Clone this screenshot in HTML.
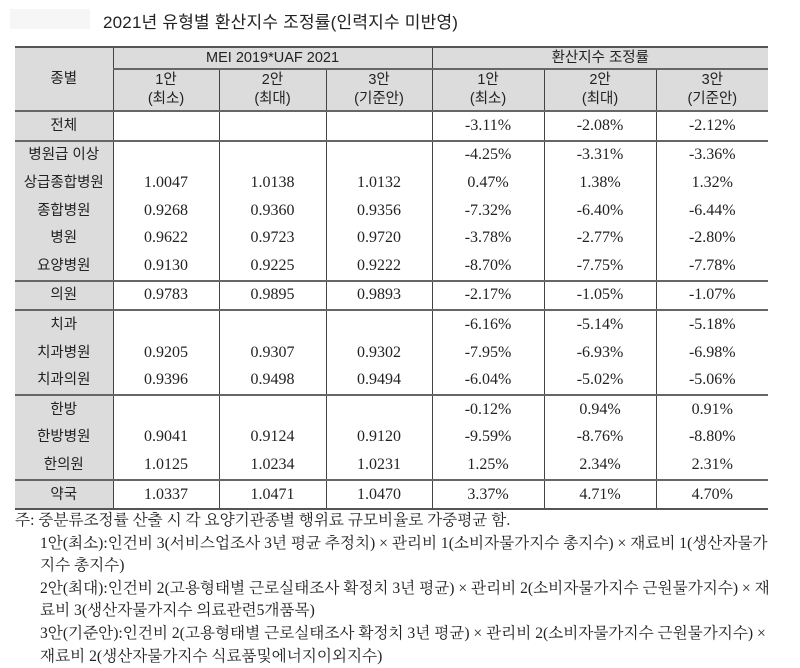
<!DOCTYPE html>
<html><head><meta charset="utf-8"><style>
body{margin:0;width:800px;height:667px;background:#fff;position:relative;overflow:hidden;font-family:"Liberation Sans","Noto Sans CJK KR",sans-serif;color:#222}
.title{position:absolute;left:103px;top:8px;font-size:17px;letter-spacing:0.2px}
.arrow{position:absolute;left:10px;top:9px;width:80px;height:20px;background:#f6f6f6}
table{position:absolute;left:15px;top:46px;border-collapse:collapse;table-layout:fixed;width:753px}
td{padding:0;text-align:center;vertical-align:middle;height:27.6px;font-family:"Liberation Serif","Noto Serif CJK SC",serif;font-size:16px;line-height:18px;border-left:1.5px solid #444;border-right:1.5px solid #444}
td.h{background:#dcdcdc;font-family:"Liberation Sans","Noto Sans CJK KR",sans-serif;font-size:14.5px;line-height:19px}
td.k{background:#dcdcdc;font-family:"Liberation Sans","Noto Sans CJK KR",sans-serif;font-size:14.5px;border-left:none}
tr.g td{border-top:2px solid #666}
tr.top td{border-top:2.5px solid #555}
.notes{position:absolute;left:15px;top:510px;font-family:"Liberation Serif","Noto Serif CJK KR",serif;font-size:15.6px;line-height:22.6px;color:#222;white-space:nowrap}
.notes div{padding-left:25px}
.notes div.f{padding-left:0}
</style></head><body>
<div class="arrow"></div>
<div class="title">2021년 유형별 환산지수 조정률(인력지수 미반영)</div>
<table>
<colgroup><col style="width:98px"><col style="width:106px"><col style="width:107px"><col style="width:106px"><col style="width:112px"><col style="width:112px"><col style="width:112px"></colgroup>
<tr class="top"><td class="k" rowspan="2" style="height:61px">종별</td><td class="h" colspan="3" style="height:20px;border-bottom:2px solid #666">MEI 2019*UAF 2021</td><td class="h" colspan="3" style="height:20px;border-bottom:2px solid #666;border-right:none">환산지수 조정률</td></tr>
<tr><td class="h" style="height:40px">1안<br>(최소)</td><td class="h">2안<br>(최대)</td><td class="h">3안<br>(기준안)</td><td class="h">1안<br>(최소)</td><td class="h">2안<br>(최대)</td><td class="h" style="border-right:none">3안<br>(기준안)</td></tr>
<tr class="g"><td class="k">전체</td><td></td><td></td><td></td><td>-3.11%</td><td>-2.08%</td><td style="border-right:none">-2.12%</td></tr>
<tr class="g"><td class="k">병원급 이상</td><td></td><td></td><td></td><td>-4.25%</td><td>-3.31%</td><td style="border-right:none">-3.36%</td></tr>
<tr><td class="k">상급종합병원</td><td>1.0047</td><td>1.0138</td><td>1.0132</td><td>0.47%</td><td>1.38%</td><td style="border-right:none">1.32%</td></tr>
<tr><td class="k">종합병원</td><td>0.9268</td><td>0.9360</td><td>0.9356</td><td>-7.32%</td><td>-6.40%</td><td style="border-right:none">-6.44%</td></tr>
<tr><td class="k">병원</td><td>0.9622</td><td>0.9723</td><td>0.9720</td><td>-3.78%</td><td>-2.77%</td><td style="border-right:none">-2.80%</td></tr>
<tr><td class="k">요양병원</td><td>0.9130</td><td>0.9225</td><td>0.9222</td><td>-8.70%</td><td>-7.75%</td><td style="border-right:none">-7.78%</td></tr>
<tr class="g"><td class="k">의원</td><td>0.9783</td><td>0.9895</td><td>0.9893</td><td>-2.17%</td><td>-1.05%</td><td style="border-right:none">-1.07%</td></tr>
<tr class="g"><td class="k">치과</td><td></td><td></td><td></td><td>-6.16%</td><td>-5.14%</td><td style="border-right:none">-5.18%</td></tr>
<tr><td class="k">치과병원</td><td>0.9205</td><td>0.9307</td><td>0.9302</td><td>-7.95%</td><td>-6.93%</td><td style="border-right:none">-6.98%</td></tr>
<tr><td class="k">치과의원</td><td>0.9396</td><td>0.9498</td><td>0.9494</td><td>-6.04%</td><td>-5.02%</td><td style="border-right:none">-5.06%</td></tr>
<tr class="g"><td class="k">한방</td><td></td><td></td><td></td><td>-0.12%</td><td>0.94%</td><td style="border-right:none">0.91%</td></tr>
<tr><td class="k">한방병원</td><td>0.9041</td><td>0.9124</td><td>0.9120</td><td>-9.59%</td><td>-8.76%</td><td style="border-right:none">-8.80%</td></tr>
<tr><td class="k">한의원</td><td>1.0125</td><td>1.0234</td><td>1.0231</td><td>1.25%</td><td>2.34%</td><td style="border-right:none">2.31%</td></tr>
<tr class="g" style="border-bottom:2.5px solid #555"><td class="k">약국</td><td>1.0337</td><td>1.0471</td><td>1.0470</td><td>3.37%</td><td>4.71%</td><td style="border-right:none">4.70%</td></tr>
</table>
<div class="notes">
<div class="f">주: 중분류조정률 산출 시 각 요양기관종별 행위료 규모비율로 가중평균 함.</div>
<div>1안(최소):인건비 3(서비스업조사 3년 평균 추정치) × 관리비 1(소비자물가지수 총지수) × 재료비 1(생산자물가</div>
<div>지수 총지수)</div>
<div>2안(최대):인건비 2(고용형태별 근로실태조사 확정치 3년 평균) × 관리비 2(소비자물가지수 근원물가지수) × 재</div>
<div>료비 3(생산자물가지수 의료관련5개품목)</div>
<div>3안(기준안):인건비 2(고용형태별 근로실태조사 확정치 3년 평균) × 관리비 2(소비자물가지수 근원물가지수) ×</div>
<div>재료비 2(생산자물가지수 식료품및에너지이외지수)</div>
</div>
</body></html>
